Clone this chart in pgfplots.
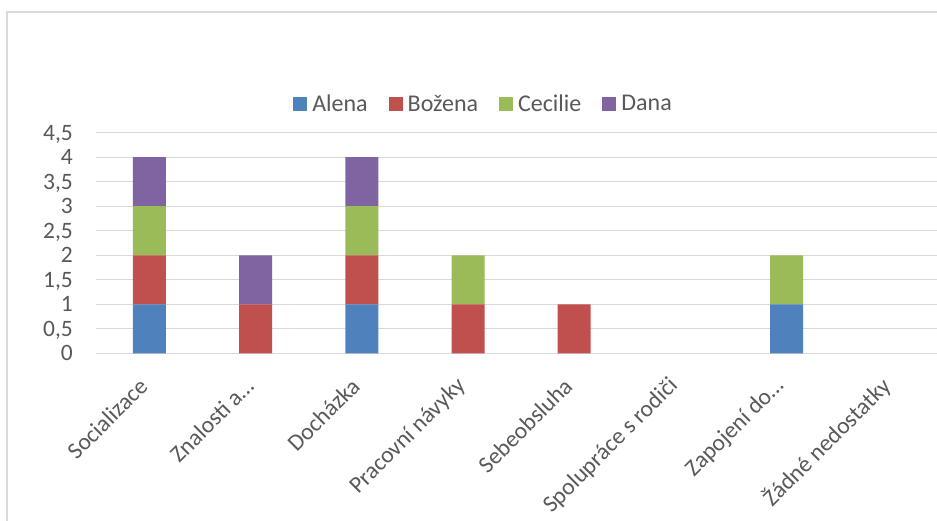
\documentclass[border=0pt]{standalone}
\usepackage{pgfplots}
\pgfplotsset{compat=1.18}
\usepackage{fontspec}
\setmainfont{Carlito}
\definecolor{alena}{RGB}{79,129,189}
\definecolor{bozena}{RGB}{192,80,77}
\definecolor{cecilie}{RGB}{155,187,89}
\definecolor{dana}{RGB}{128,100,162}
\definecolor{txt}{RGB}{89,89,89}
\definecolor{grd}{RGB}{217,217,217}
\pgfplotstableread{
x A B C D
0 1 1 1 1
1 0 1 0 1
2 1 1 1 1
3 0 1 1 0
4 0 1 0 0
5 0 0 0 0
6 1 0 1 0
7 0 0 0 0
}\data
\begin{document}
\begin{tikzpicture}[x=1pt,y=1pt]
\useasboundingbox (0,0) rectangle (937,520);
\clip (0,0) rectangle (937,520);
\fill[white] (0,0) rectangle (937,520);
\draw[grd, line width=1.3pt] (7,-10) -- (7,508) -- (960,508);
\begin{axis}[
  at={(96.4pt,166.7pt)}, anchor=south west, scale only axis,
  width=849.4pt, height=220.6pt,
  ybar stacked, bar width=33pt,
  xmin=-0.5, xmax=7.5, ymin=0, ymax=4.5,
  xtick={0,1,2,3,4,5,6,7},
  xticklabels={Socializace, Znalosti a…, Docházka, Pracovní návyky, Sebeobsluha, Spolupráce s rodiči, Zapojení do…, Žádné nedostatky},
  ytick={0,0.5,1,1.5,2,2.5,3,3.5,4,4.5},
  /pgf/number format/.cd, use comma, fixed, assume math mode=true, /pgfplots/.cd,
  axis line style={draw=none},
  major tick length=0pt,
  ymajorgrids, major grid style={grd, line width=1.3pt},
  tick label style={font=\fontsize{23.5}{28}\selectfont, text=txt},
  yticklabel style={anchor=east, inner sep=0pt, text depth=0pt, xshift=-23.4pt},
  xticklabel style={yshift=-29pt, xshift=-6pt, rotate=45, anchor=east, inner sep=0pt},
  legend columns=4,
  legend image code/.code={\fill[#1] (0pt,-7pt) rectangle (14pt,7pt);},
  legend style={at={(0.4546,1.130)}, anchor=center, draw=none, fill=none,
    font=\fontsize{24}{28}\selectfont, text=txt,
    nodes={inner sep=0pt},
    /tikz/every odd column/.append style={column sep=5pt},
    /tikz/every even column/.append style={column sep=21pt}},
  every axis plot/.append style={draw=none},
]
\addplot[fill=alena] table[x=x,y=A]{\data};
\addplot[fill=bozena] table[x=x,y=B]{\data};
\addplot[fill=cecilie] table[x=x,y=C]{\data};
\addplot[fill=dana] table[x=x,y=D]{\data};
\legend{Alena, Božena, Cecilie, Dana}
\end{axis}
\end{tikzpicture}
\end{document}
